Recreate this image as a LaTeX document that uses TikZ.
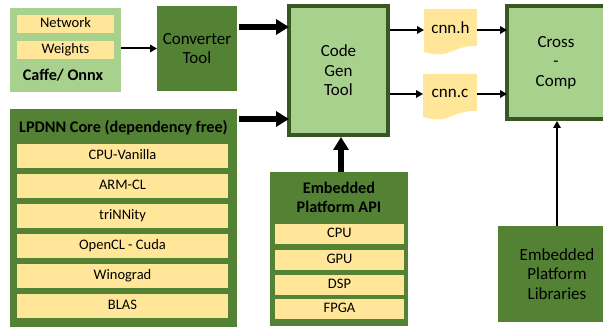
\documentclass[tikz,border=0pt]{standalone}
\usepackage{fontspec}
\setmainfont{Carlito}
\usetikzlibrary{arrows.meta,calc}
\definecolor{lg}{HTML}{A9D18E}
\definecolor{dg}{HTML}{548235}
\definecolor{yl}{HTML}{FFE699}
\definecolor{bd}{HTML}{385723}
\newcommand{\bigtxt}{\fontsize{17}{19.5}\selectfont}
\newcommand{\itemtxt}{\fontsize{14.5}{17}\selectfont}
\newcommand{\titletxt}{\fontsize{16.2}{19}\selectfont\bfseries}
\begin{document}
\begin{tikzpicture}[x=1pt,y=-1pt,
  box/.style={rectangle, inner sep=0pt, outer sep=0pt, align=center},
  lightbox/.style={box, fill=lg},
  darkbox/.style={box, fill=dg},
  framedbox/.style={box, fill=lg, draw=bd, line width=4pt},
  itembox/.style={box, fill=yl, font=\itemtxt, text height=0.62em, text depth=0pt},
  doc/.style={box, font=\bigtxt, text height=0.62em, text depth=0pt},
  thinarr/.style={line width=2pt, -{Triangle[length=7pt,width=7.5pt]}},
  thickarr/.style={line width=5.5pt, -{Triangle[length=13pt,width=15pt]}}
]
\clip (0,0) rectangle (603,328);

% Caffe / Onnx
\node[lightbox, minimum width=111pt, minimum height=84pt] (caffe) at (65.5,50) {};
\node[itembox, minimum width=97pt, minimum height=18pt] (network) at (65.5,24) {Network};
\node[itembox, minimum width=97pt, minimum height=18pt] (weights) at (65.5,50) {Weights};
\node[box, font=\titletxt] (caffelbl) at (63,75) {Caffe/ Onnx};

% Converter
\node[darkbox, minimum width=80pt, minimum height=85pt, font=\bigtxt] (converter) at (197,48.5) {Converter\\Tool};

% Code Gen
\node[framedbox, minimum width=99pt, minimum height=129pt, font=\bigtxt] (codegen) at (338.5,70.5) {Code\\Gen\\Tool};

% Cross Comp
\node[framedbox, minimum width=98pt, minimum height=113pt, font=\bigtxt] (cross) at (556,62.5) {Cross\\-\\Comp};

% documents
\fill[yl] (424,9) -- (477,9) -- (477,45.8) .. controls (450.5,45.8) and (450.5,59.9) .. (424,52) -- cycle;
\fill[yl] (423,74) -- (477,74) -- (477,110.8) .. controls (450,110.8) and (450,124.9) .. (423,117) -- cycle;
\node[doc, minimum width=53pt, minimum height=42pt] (cnnh) at (450.5,30) {cnn.h};
\node[doc, minimum width=54pt, minimum height=40pt] (cnnc) at (450,94) {cnn.c};

% LPDNN core
\node[darkbox, minimum width=227pt, minimum height=218pt] (lpdnn) at (123.5,218) {};
\node[box, font=\titletxt] (lpdnntitle) at (123.5,128) {LPDNN Core (dependency free)};
\node[itembox, minimum width=211pt, minimum height=24pt] (cpuv) at (122.5,156.5) {CPU-Vanilla};
\node[itembox, minimum width=211pt, minimum height=24pt] (armcl) at (122.5,186.5) {ARM-CL};
\node[itembox, minimum width=211pt, minimum height=24pt] (trinnity) at (122.5,216.5) {triNNity};
\node[itembox, minimum width=211pt, minimum height=24pt] (opencl) at (122.5,246.5) {OpenCL - Cuda};
\node[itembox, minimum width=211pt, minimum height=24pt] (winograd) at (122.5,276.5) {Winograd};
\node[itembox, minimum width=211pt, minimum height=24pt] (blas) at (122.5,306.5) {BLAS};

% Embedded platform API
\node[darkbox, minimum width=138pt, minimum height=154pt] (api) at (339,249) {};
\node[box, font=\titletxt] (apititle) at (339,197.5) {Embedded\\Platform API};
\node[itembox, minimum width=129pt, minimum height=20pt] (cpu) at (339.5,234) {CPU};
\node[itembox, minimum width=129pt, minimum height=20pt] (gpu) at (339.5,260) {GPU};
\node[itembox, minimum width=129pt, minimum height=20pt] (dsp) at (339.5,285) {DSP};
\node[itembox, minimum width=129pt, minimum height=20pt] (fpga) at (339.5,309.5) {FPGA};

% Embedded platform libraries
\node[darkbox, minimum width=118pt, minimum height=96pt, font=\bigtxt] (emblib) at (557,274) {Embedded\\Platform\\Libraries};

% connectors
\draw[thinarr] ([yshift=1.5pt]caffe.east) -- ([yshift=1.5pt]caffe.east -| converter.west);
\draw[thickarr] ([xshift=2pt,yshift=21.5pt]converter.east) -- ([yshift=21.5pt]converter.east -| codegen.west);
\draw[thickarr] ([xshift=2pt,yshift=99pt]lpdnn.east) -- ([yshift=99pt]lpdnn.east -| codegen.west);
\draw[thickarr] ([xshift=2pt]api.north) -- ([xshift=2pt,yshift=-2pt]api.north |- codegen.south);
\draw[thinarr] ([xshift=2pt]cnnh.west -| codegen.east) -- (cnnh.west);
\draw[thinarr] (cnnh.east) -- (cnnh.east -| cross.west);
\draw[thinarr] ([xshift=2pt]cnnc.west -| codegen.east) -- (cnnc.west);
\draw[thinarr] (cnnc.east) -- (cnnc.east -| cross.west);
\draw[thinarr] (emblib.north) -- ([yshift=-2pt]emblib.north |- cross.south);
\end{tikzpicture}
\end{document}
